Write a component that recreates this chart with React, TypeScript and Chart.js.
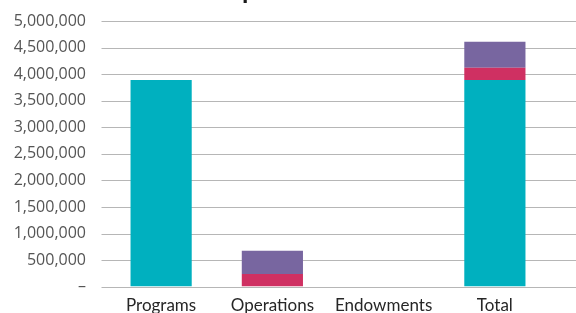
import React, { useEffect, useRef } from "react";
import { Chart, registerables } from "chart.js";

Chart.register(...registerables);

const categories = ["Programs", "Operations", "Endowments", "Total"];
const tealValues = [3890000, 0, 0, 3890000];
const crimsonValues = [0, 235000, 0, 230000];
const purpleValues = [0, 440000, 0, 490000];
const yMax = 5000000;
const yStep = 500000;
const titleText = "Expenses";
const canvasShift = 8;

const gridPlugin = {
  id: "customGrid",
  beforeDatasetsDraw(chart: any) {
    const { ctx } = chart;
    const y = chart.scales.y;
    ctx.save();
    ctx.strokeStyle = "#b6b6b6";
    ctx.lineWidth = 1;
    y.ticks.forEach((t: any) => {
      const py = Math.round(y.getPixelForValue(t.value)) + 0.5;
      ctx.beginPath();
      ctx.moveTo(101.5, py);
      ctx.lineTo(chart.width, py);
      ctx.stroke();
    });
    ctx.restore();
  },
  afterDraw(chart: any) {
    const { ctx } = chart;
    ctx.save();
    ctx.font = "bold 26px Lato";
    ctx.fillStyle = "#1a1a1a";
    ctx.textBaseline = "alphabetic";
    ctx.textAlign = "left";
    const pre = ctx.measureText("Ex").width;
    ctx.fillText(titleText, 242 - pre, canvasShift - 1);
    ctx.restore();
  },
};

export default function App() {
  const ref = useRef<HTMLCanvasElement | null>(null);
  useEffect(() => {
    if (!ref.current) return;
    const chart = new Chart(ref.current, {
      type: "bar",
      data: {
        labels: categories,
        datasets: [
          { data: tealValues, backgroundColor: "#00b0bf", barPercentage: 0.55, categoryPercentage: 1 },
          { data: crimsonValues, backgroundColor: "#cf3062", barPercentage: 0.55, categoryPercentage: 1 },
          { data: purpleValues, backgroundColor: "#7866a0", barPercentage: 0.55, categoryPercentage: 1 },
        ],
      },
      options: {
        animation: false,
        responsive: true,
        maintainAspectRatio: false,
        layout: { padding: { top: 14, right: 25.5, left: 0, bottom: 0 } },
        plugins: { legend: { display: false }, tooltip: { enabled: false }, title: { display: false } },
        scales: {
          x: {
            stacked: true,
            grid: { display: false, drawTicks: false },
            border: { display: false },
            ticks: { color: "#262626", font: { family: "Lato", size: 17 }, padding: 9 },
          },
          y: {
            stacked: true,
            min: 0,
            max: yMax,
            grid: { display: false, drawTicks: false },
            border: { display: false },
            afterFit: (s: any) => {
              s.width = 105.5;
            },
            ticks: {
              stepSize: yStep,
              padding: 19.5,
              color: "#555555",
              font: { family: "Open Sans", size: 16 },
              callback: (v: any) => (Number(v) === 0 ? "–" : Number(v).toLocaleString("en-US")),
            },
          },
        },
      },
      plugins: [gridPlugin],
    });
    return () => chart.destroy();
  }, []);
  return (
    <div style={{ position: "absolute", left: 0, top: 0, width: 576, height: 313, overflow: "hidden", background: "#fff" }}>
      <div style={{ position: "relative", width: 576, height: 333, marginTop: -canvasShift }}>
        <canvas ref={ref} />
      </div>
    </div>
  );
}
